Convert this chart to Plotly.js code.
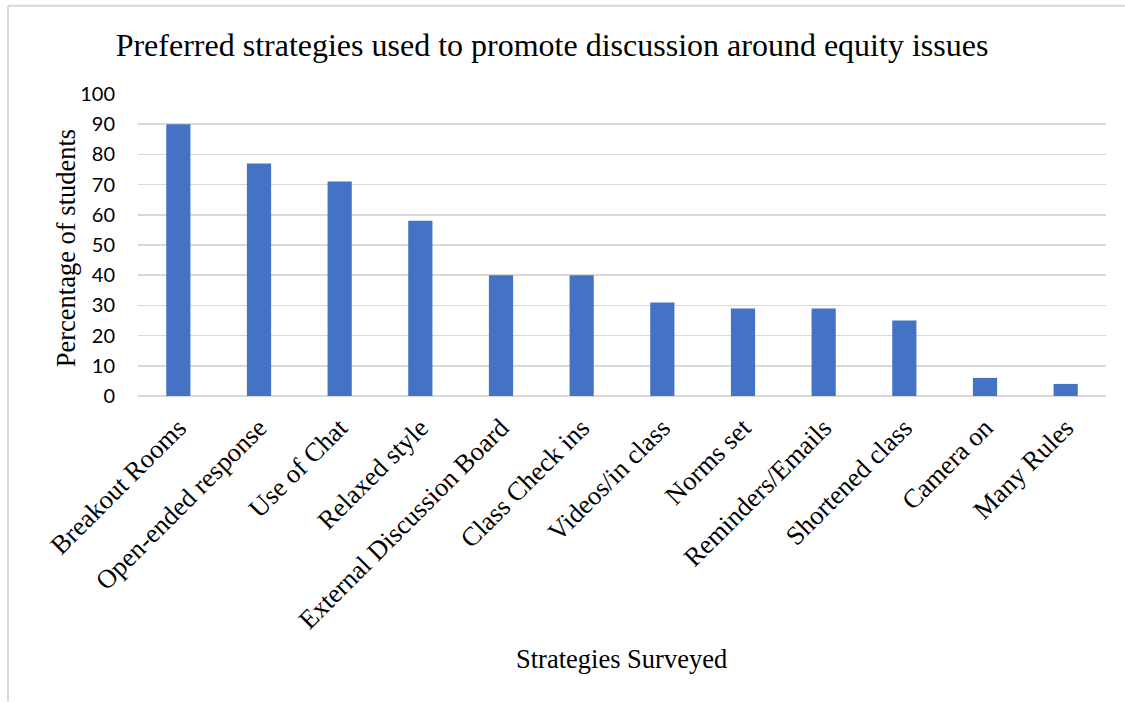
<!DOCTYPE html>
<html>
<head>
<meta charset="utf-8">
<script src="https://cdn.plot.ly/plotly-3.0.1.min.js"></script>
<style>
html,body{margin:0;padding:0;background:#fff;}
#chart{width:1125px;height:702px;}
</style>
</head>
<body>
<div id="chart"></div>
<script>
const categories = ["Breakout Rooms","Open-ended response","Use of Chat","Relaxed style","External Discussion Board","Class Check ins","Videos/in class","Norms set","Reminders/Emails","Shortened class","Camera on","Many Rules"];
const values = [90,77,71,58,40,40,31,29,29,25,6,4];
const yTicks = [0,10,20,30,40,50,60,70,80,90,100];

const serif = "'Liberation Serif','Times New Roman',serif";
const L = 138, R = 19, T = 93.5, B = 306;
const W = 1125, H = 702;
const pw = W - L - R, ph = H - T - B;
function px(x){ return (x - L) / pw; }
function py(y){ return (H - B - y) / ph; }

const trace = {
  type: 'bar',
  x: categories,
  y: values,
  marker: {color: '#4472C4'},
  hoverinfo: 'x+y'
};

const layout = {
  width: W, height: H,
  margin: {l: L, r: R, t: T, b: B},
  paper_bgcolor: '#fff', plot_bgcolor: '#fff',
  showlegend: false,
  bargap: 0.7,
  title: {text: 'Preferred strategies used to promote discussion around equity issues',
          font: {family: serif, size: 32, color: '#000'},
          x: px(552), xref: 'paper', xanchor: 'center',
          y: 1 - 45/H, yref: 'container', yanchor: 'middle'},
  xaxis: {
    type: 'category',
    tickangle: -45,
    tickfont: {family: serif, size: 26.5, color: '#000'},
    ticklabelstandoff: 10,
    showgrid: false, zeroline: false, showline: false,
    ticks: '', automargin: false
  },
  yaxis: {
    range: [0, 100],
    tickvals: yTicks,
    ticktext: yTicks.map(String),
    tickfont: {family: "Lato, 'Liberation Sans', sans-serif", size: 20, color: '#000'},
    ticklabelstandoff: 22,
    showgrid: true, gridcolor: '#d9d9d9', gridwidth: 1.5,
    zeroline: true, zerolinecolor: '#d9d9d9', zerolinewidth: 1.5,
    showline: false, ticks: '', ticklen: 0, automargin: false
  },
  annotations: [
    {text: 'Strategies Surveyed', xref: 'paper', yref: 'paper',
     x: px(621), y: py(659), xanchor: 'center', yanchor: 'middle', showarrow: false,
     font: {family: serif, size: 26.5, color: '#000'}},
    {text: 'Percentage of students', xref: 'paper', yref: 'paper',
     x: px(66), y: py(248), xanchor: 'center', yanchor: 'middle', showarrow: false,
     textangle: -90,
     font: {family: serif, size: 26.5, color: '#000'}}
  ],
  shapes: [
    {type: 'line', xref: 'paper', yref: 'paper', x0: px(8), x1: px(1125), y0: py(5), y1: py(5),
     line: {color: '#d9d9d9', width: 2}},
    {type: 'line', xref: 'paper', yref: 'paper', x0: px(8), x1: px(8), y0: py(5), y1: py(702),
     line: {color: '#d9d9d9', width: 2}}
  ]
};

Plotly.newPlot('chart', [trace], layout, {displayModeBar: false, staticPlot: true});
</script>
</body>
</html>
